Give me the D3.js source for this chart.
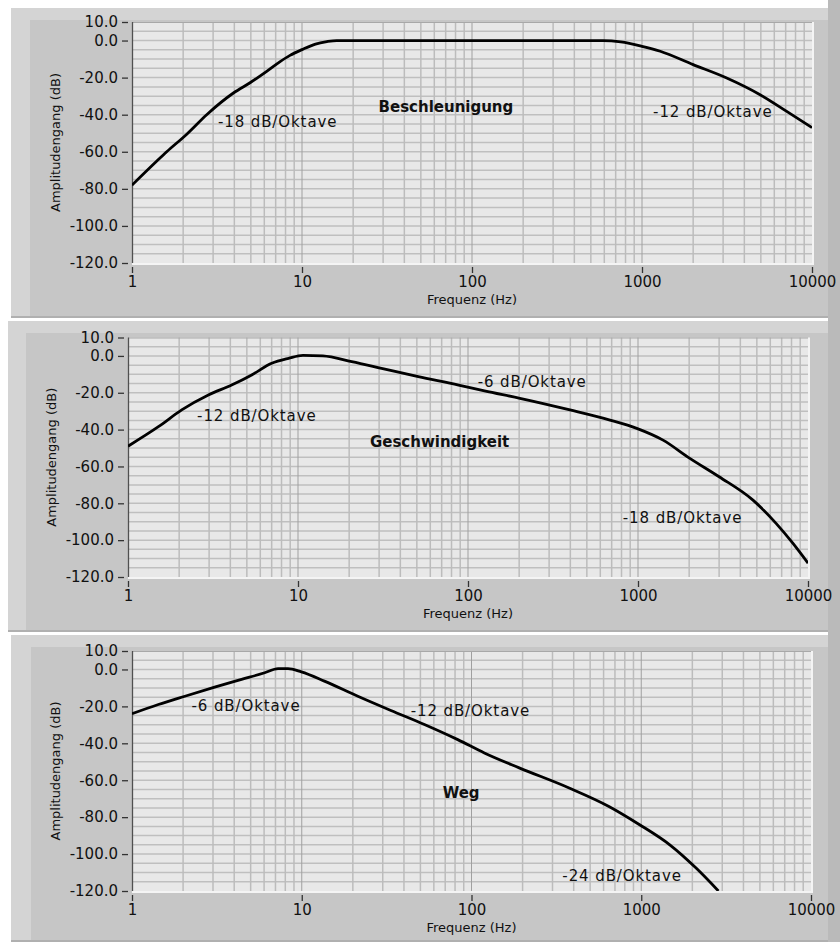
<!DOCTYPE html>
<html>
<head>
<meta charset="utf-8">
<script src="https://cdn.jsdelivr.net/npm/d3@7"></script>
<style>
  html, body { margin: 0; padding: 0; background: #ffffff; }
  svg { display: block; }
  text { font-family: "DejaVu Sans", Verdana, sans-serif; fill: #111; }
</style>
</head>
<body>
<svg id="chart" width="840" height="942"></svg>
<script>
// ---------------- DATA ----------------
const xTicks = [1, 10, 100, 1000, 10000];
const yTicks = [10, 0, -20, -40, -60, -80, -100, -120];
const xTitle = "Frequenz (Hz)";
const yTitle = "Amplitudengang (dB)";

// Beschleunigung (acceleration)
const accelFreq = [1, 1.4, 1.6, 2.1, 2.75, 3.95, 5.0, 6.2, 7.4, 8.5, 10, 12, 14, 16, 20, 50, 100, 300, 590, 750, 1000, 1280, 2000, 3150, 4950, 7100, 10000];
const accelDb   = [-78, -65, -60, -50.5, -40, -28.3, -22.5, -16.6, -11.5, -8, -4.9, -1.9, -0.6, 0, 0, 0, 0, 0, 0, -0.7, -3.1, -5.8, -13, -20.2, -29.2, -38.2, -47];

// Geschwindigkeit (velocity)
const veloFreq = [1, 1.51, 2.07, 2.97, 4.07, 5.34, 7.0, 8.8, 10.7, 14, 20.7, 31, 51, 88, 125, 202, 398, 684, 983, 1404, 2018, 3000, 4747, 6490, 8160, 10000];
const veloDb   = [-49, -38.4, -29.3, -21.2, -15.8, -10.3, -4.0, -1.3, 0.3, 0, -3.1, -6.7, -11.2, -15.8, -19, -23, -29.3, -34.8, -39.3, -45.7, -55.6, -65.6, -78.3, -90.9, -101.8, -112.5];

// Weg (displacement)
const dispFreq = [1, 1.43, 2.05, 3.07, 4.42, 6.05, 7.25, 8.3, 9.95, 13.6, 21.4, 33.5, 52.8, 83, 119, 191, 376, 645, 978, 1473, 2104, 2850];
const dispDb   = [-24, -19, -14.5, -9.6, -5.4, -1.8, 0.5, 0.5, -1.3, -6.3, -14.5, -22.2, -29.8, -38, -45.2, -53.3, -64.2, -74.2, -84.1, -95, -107.6, -120];

// annotations: [text, freq, dB, bold]
const accelNotes = [["-18 dB/Oktave", 3.2, -43.8, false], ["Beschleunigung", 28.2, -35.7, true], ["-12 dB/Oktave", 1162, -38.2, false]];
const veloNotes  = [["-12 dB/Oktave", 2.55, -32.6, false], ["Geschwindigkeit", 26.5, -46.6, true], ["-6 dB/Oktave", 114, -14, false], ["-18 dB/Oktave", 814, -88, false]];
const dispNotes  = [["-6 dB/Oktave", 2.24, -19.4, false], ["-12 dB/Oktave", 43.8, -22.2, false], ["Weg", 67.6, -66.7, true], ["-24 dB/Oktave", 343, -111.6, false]];

const series = [
  { freq: accelFreq, db: accelDb, notes: accelNotes },
  { freq: veloFreq,  db: veloDb,  notes: veloNotes },
  { freq: dispFreq,  db: dispDb,  notes: dispNotes }
];

// ---------------- LAYOUT ----------------
const layouts = [
  { px: 11, py: 8,   pw: 817, ph: 310, ix: 30, iy: 20,  left: 132, right: 812, top: 22,    bottom: 263 },
  { px: 8,  py: 321, pw: 820, ph: 311, ix: 26, iy: 333, left: 128, right: 808, top: 337.5, bottom: 577 },
  { px: 11, py: 635, pw: 817, ph: 307, ix: 31, iy: 647, left: 132, right: 811, top: 651,   bottom: 891 }
];

const svg = d3.select("#chart");
svg.append("rect").attr("x", 0).attr("y", 0).attr("width", 840).attr("height", 942).attr("fill", "#ffffff");
// right-hand strip (under everything)
svg.append("rect").attr("x", 828).attr("y", 0).attr("width", 12).attr("height", 942).attr("fill", "#bababa");

const fmtY = d => d.toFixed(1);
const fmtX = d => String(d);

series.forEach((s, i) => {
  const L = layouts[i];
  const g = svg.append("g");

  // panel frame
  g.append("rect").attr("x", L.px).attr("y", L.py).attr("width", L.pw).attr("height", L.ph).attr("fill", "#d4d4d4");
  g.append("rect").attr("x", L.ix).attr("y", L.iy).attr("width", L.px + L.pw - L.ix).attr("height", L.py + L.ph - L.iy - 2).attr("fill", "#c6c6c6");
  g.append("rect").attr("x", L.px).attr("y", L.py + L.ph - 2).attr("width", L.pw).attr("height", 2).attr("fill", "#b0b0b0");

  const x = d3.scaleLog().domain([1, 10000]).range([L.left, L.right]);
  const y = d3.scaleLinear().domain([-120, 10]).range([L.bottom, L.top]);

  // plot background
  g.append("rect").attr("x", L.left).attr("y", L.top).attr("width", L.right - L.left).attr("height", L.bottom - L.top).attr("fill", "#e8e8e8");

  // horizontal grid (every 5 dB)
  const hGrid = d3.range(-115, 10, 5);
  g.append("g").selectAll("line").data(hGrid).join("line")
    .attr("x1", L.left).attr("x2", L.right)
    .attr("y1", d => y(d)).attr("y2", d => y(d))
    .attr("stroke", "#bfbfbf").attr("stroke-width", 1.5);

  // vertical grid (log minor + decades)
  const minor = [];
  [1, 10, 100, 1000].forEach(dec => { for (let k = 2; k <= 9; k++) minor.push(dec * k); });
  g.append("g").selectAll("line").data(minor).join("line")
    .attr("x1", d => x(d)).attr("x2", d => x(d))
    .attr("y1", L.top).attr("y2", L.bottom)
    .attr("stroke", "#bcbcbc").attr("stroke-width", 1.5);
  g.append("g").selectAll("line").data([10, 100, 1000]).join("line")
    .attr("x1", d => x(d)).attr("x2", d => x(d))
    .attr("y1", L.top).attr("y2", L.bottom)
    .attr("stroke", "#a0a0a0").attr("stroke-width", 1);

  // plot borders (sunken)
  g.append("line").attr("x1", L.left).attr("x2", L.right).attr("y1", L.top + 0.5).attr("y2", L.top + 0.5).attr("stroke", "#a8a8a8").attr("stroke-width", 1);
  g.append("line").attr("x1", L.left).attr("x2", L.right + 1).attr("y1", L.bottom + 1).attr("y2", L.bottom + 1).attr("stroke", "#f4f4f4").attr("stroke-width", 2);
  g.append("line").attr("x1", L.right + 1).attr("x2", L.right + 1).attr("y1", L.top).attr("y2", L.bottom + 2).attr("stroke", "#f4f4f4").attr("stroke-width", 2);
  g.append("line").attr("x1", L.left + 0.5).attr("x2", L.left + 0.5).attr("y1", L.top).attr("y2", L.bottom).attr("stroke", "#505050").attr("stroke-width", 1.3);

  // clip
  const cid = "clip" + i;
  g.append("clipPath").attr("id", cid).append("rect")
    .attr("x", L.left).attr("y", L.top).attr("width", L.right - L.left).attr("height", L.bottom - L.top);

  // curve
  const pts = s.freq.map((f, k) => [f, s.db[k]]);
  const line = d3.line().x(d => x(d[0])).y(d => y(d[1])).curve(d3.curveMonotoneX);
  g.append("path").attr("d", line(pts)).attr("fill", "none")
    .attr("stroke", "#000").attr("stroke-width", 2.8).attr("stroke-linejoin", "round")
    .attr("clip-path", `url(#${cid})`);

  // annotations
  g.append("g").selectAll("text").data(s.notes).join("text")
    .attr("x", d => x(d[1])).attr("y", d => y(d[2]))
    .attr("dy", "0.36em")
    .style("font-size", "15px")
    .style("font-weight", d => d[3] ? "bold" : "normal")
    .style("letter-spacing", d => d[3] ? "0px" : "0.9px")
    .text(d => d[0]);

  // y axis
  const yAxis = d3.axisLeft(y).tickValues(yTicks).tickFormat(fmtY).tickSize(6).tickPadding(4);
  const ya = g.append("g").attr("transform", `translate(${L.left - 4},0)`).call(yAxis);
  ya.select(".domain").remove();
  ya.selectAll("line").attr("stroke", "#333").attr("stroke-width", 1.3);
  ya.selectAll("text").style("font-size", "15px").style("font-family", "DejaVu Sans").attr("fill", "#111");

  // x axis
  const xAxis = d3.axisBottom(x).tickValues(xTicks).tickFormat(fmtX).tickSize(6).tickPadding(3);
  const xa = g.append("g").attr("transform", `translate(0,${L.bottom + 4})`).call(xAxis);
  xa.select(".domain").remove();
  xa.selectAll("line").attr("stroke", "#333").attr("stroke-width", 1.3);
  xa.selectAll("text").style("font-size", "15px").style("font-family", "DejaVu Sans").attr("fill", "#111");

  // titles
  g.append("text").attr("x", (L.left + L.right) / 2).attr("y", L.bottom + 36)
    .attr("text-anchor", "middle").attr("dy", "0.36em").style("font-size", "13px").text(xTitle);
  g.append("text").attr("transform", `translate(${L.left - 77},${(L.top + L.bottom) / 2}) rotate(-90)`)
    .attr("text-anchor", "middle").attr("dy", "0.36em").style("font-size", "13px").text(yTitle);
});
</script>
</body>
</html>
